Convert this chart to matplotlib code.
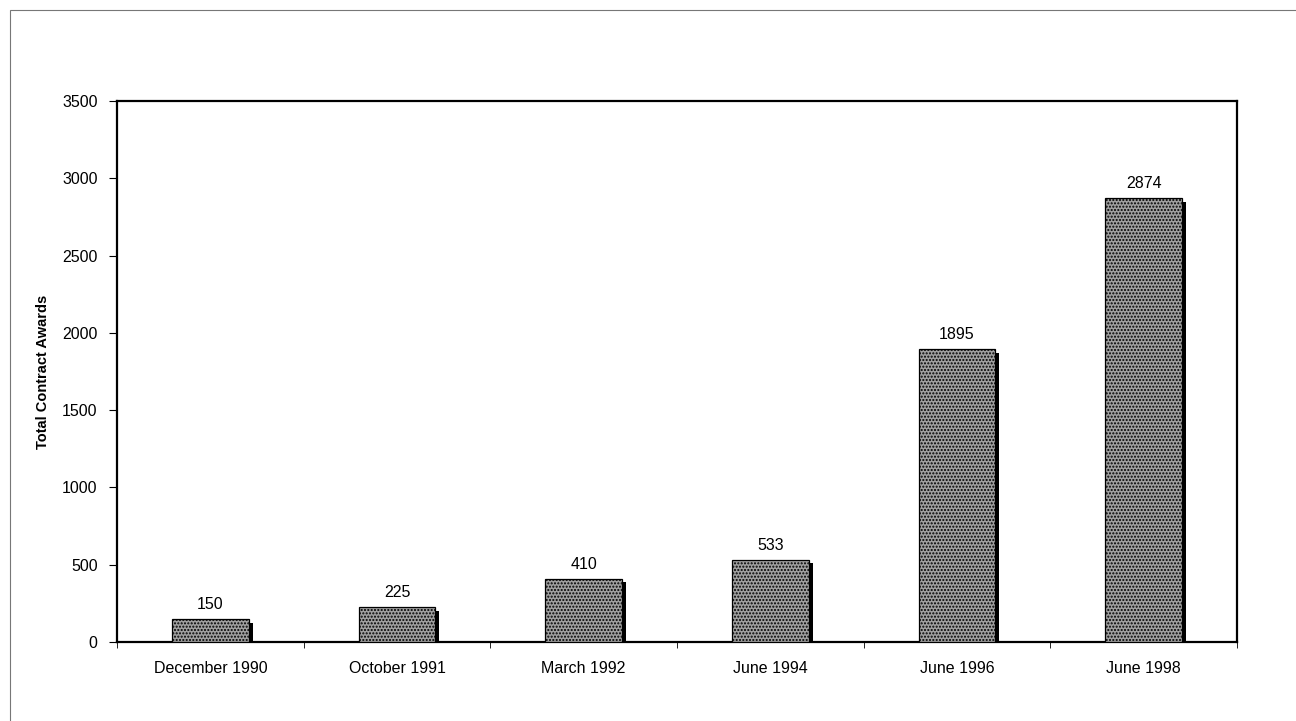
import matplotlib
matplotlib.use("Agg")
import matplotlib.pyplot as plt
from matplotlib.patches import Rectangle
import numpy as np

plt.rcParams['font.family'] = ['Liberation Sans', 'DejaVu Sans']
plt.rcParams['hatch.color'] = '#666666'

categories = ["December 1990", "October 1991", "March 1992", "June 1994", "June 1996", "June 1998"]
awards = [150, 225, 410, 533, 1895, 2874]
y_ticks = [0, 500, 1000, 1500, 2000, 2500, 3000, 3500]

fig = plt.figure(figsize=(12.96, 7.21), dpi=100)
ax = fig.add_axes([117/1296, 1 - 642/721, 1120/1296, 541/721])

# outer page frame
fig.patches.append(Rectangle((10/1296, -0.1), 1.2, 1 - 10/721 + 0.1, transform=fig.transFigure,
                             fill=False, edgecolor='#777777', linewidth=0.8))

x = np.arange(len(categories))
width = 0.41
dx = 0.022
dy = 25
# drop shadows
ax.bar(x + dx, awards, width=width, bottom=-dy, color='black', zorder=2)
# bars
ax.bar(x, awards, width=width, color='#a0a0a0', edgecolor='black', linewidth=0.9,
       hatch='.....', zorder=3)

for xi, v in zip(x, awards):
    ax.text(xi, v + 45, str(v), ha='center', va='bottom', fontsize=11.5, zorder=4)

ax.set_xlim(-0.5, len(categories) - 0.5)
ax.set_ylim(0, 3500)
ax.set_yticks(y_ticks)
ax.set_yticklabels([str(t) for t in y_ticks], fontsize=11.5)
ax.set_xticks(x)
ax.set_xticklabels(categories, fontsize=11.5)
ax.tick_params(axis='x', length=0, pad=14)
ax.set_xticks(np.arange(len(categories) + 1) - 0.5, minor=True)
ax.tick_params(axis='x', which='minor', length=4, direction='out')
ax.tick_params(axis='y', length=6, direction='out', pad=8)
for s in ax.spines.values():
    s.set_linewidth(1.6)
    s.set_color('black')
ax.set_ylabel("Total Contract Awards", fontsize=10.5, fontweight='bold', labelpad=9)

fig.savefig("out.png", dpi=100)
